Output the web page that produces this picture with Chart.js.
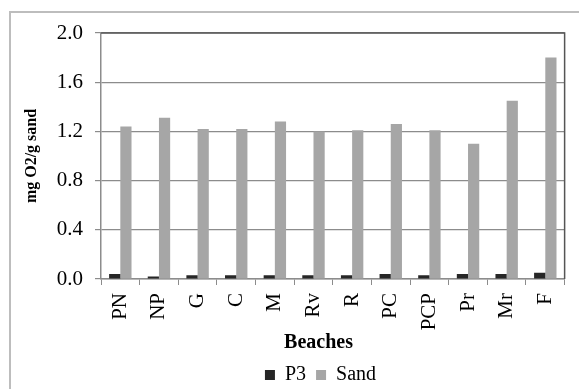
<!DOCTYPE html>
<html>
<head>
<meta charset="utf-8">
<script src="https://cdn.jsdelivr.net/npm/chart.js@4"></script>
<style>
  html, body { margin: 0; padding: 0; background: #fff; }
  #wrap { width: 579px; height: 389px; }
</style>
</head>
<body>
<div id="wrap"><canvas id="c" width="579" height="389"></canvas></div>
<script>
const categories = ['PN', 'NP', 'G', 'C', 'M', 'Rv', 'R', 'PC', 'PCP', 'Pr', 'Mr', 'F'];
const p3Values   = [0.04, 0.02, 0.03, 0.03, 0.03, 0.03, 0.03, 0.04, 0.03, 0.04, 0.04, 0.05];
const sandValues = [1.24, 1.31, 1.22, 1.22, 1.28, 1.20, 1.21, 1.26, 1.21, 1.10, 1.45, 1.80];
const yTicks = [0.0, 0.4, 0.8, 1.2, 1.6, 2.0];

const FONT = "'Liberation Serif', 'Times New Roman', serif";
Chart.defaults.font.family = FONT;
Chart.defaults.color = '#000';

const framePlugin = {
  id: 'frame',
  afterUpdate(chart) {
    const shift = 32;
    if (chart.legend) { chart.legend.left += shift; chart.legend.right += shift; }
    if (chart.titleBlock) { chart.titleBlock.left += 30; chart.titleBlock.right += 30; }
  },
  beforeDraw(chart) {
    const ctx = chart.ctx;
    ctx.save();
    ctx.fillStyle = '#fff';
    ctx.fillRect(0, 0, chart.width, chart.height);
    ctx.strokeStyle = '#bdbdbd';
    ctx.lineWidth = 2;
    ctx.beginPath();
    ctx.moveTo(10, chart.height);
    ctx.lineTo(10, 12);
    ctx.lineTo(chart.width, 12);
    ctx.stroke();
    ctx.restore();
  },
  afterDraw(chart) {
    const a = chart.chartArea;
    const ctx = chart.ctx;
    ctx.save();
    ctx.strokeStyle = '#555';
    ctx.lineWidth = 1.5;
    ctx.beginPath();
    ctx.moveTo(a.left, a.top);
    ctx.lineTo(a.right, a.top);
    ctx.lineTo(a.right, a.bottom);
    ctx.stroke();
    ctx.restore();
  }
};

new Chart(document.getElementById('c'), {
  type: 'bar',
  data: {
    labels: categories,
    datasets: [
      { label: 'P3', data: p3Values, backgroundColor: '#262626', categoryPercentage: 0.58, barPercentage: 1.0 },
      { label: 'Sand', data: sandValues, backgroundColor: '#a6a6a6', categoryPercentage: 0.58, barPercentage: 1.0 }
    ]
  },
  options: {
    responsive: false,
    animation: false,
    layout: { padding: { left: 10, top: 33, right: 12, bottom: -6 } },
    plugins: {
      legend: {
        position: 'bottom',
        labels: { boxWidth: 10, boxHeight: 10, padding: 10, font: { size: 20 }, color: '#000' }
      },
      title: {
        display: true,
        text: 'Beaches',
        position: 'bottom',
        weight: 500,
        padding: { top: 0, bottom: 0 },
        font: { size: 20, weight: 'bold' },
        color: '#000'
      },
      tooltip: { enabled: false }
    },
    scales: {
      x: {
        grid: { drawOnChartArea: false, drawTicks: true, tickLength: 6, tickColor: '#8c8c8c' },
        border: { color: '#8c8c8c', width: 1.5 },
        ticks: { autoSkip: false, maxRotation: 90, minRotation: 90, padding: 8, font: { size: 21 }, color: '#000' },
        afterFit(scale) { scale.height = 52; }
      },
      y: {
        min: 0, max: 2.0,
        afterBuildTicks(scale) { scale.ticks = yTicks.map(v => ({ value: v })); },
        grid: { color: '#8c8c8c', lineWidth: 1.2, tickLength: 6, tickColor: '#8c8c8c' },
        border: { color: '#8c8c8c', width: 1.5 },
        ticks: { padding: 12, font: { size: 21 }, color: '#000', callback: v => Number(v).toFixed(1) },
        title: { display: true, text: 'mg O2/g sand', font: { size: 16, weight: 'bold' }, color: '#000', padding: { top: 12, bottom: 0 } },
        afterFit(scale) { scale.width = 91; }
      }
    }
  },
  plugins: [framePlugin]
});
</script>
</body>
</html>
